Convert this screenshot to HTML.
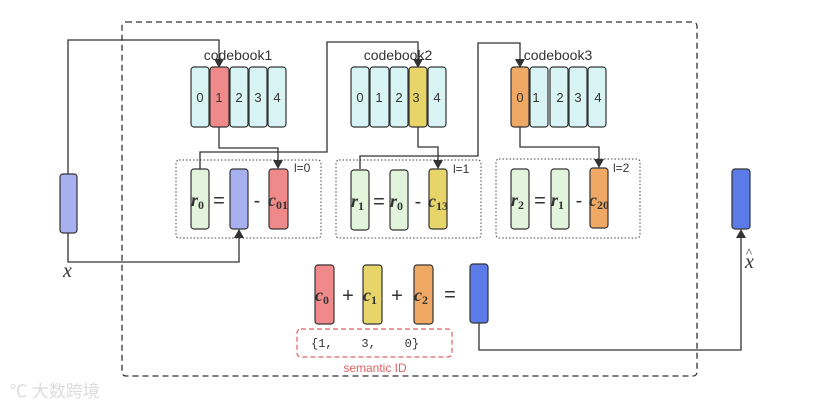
<!DOCTYPE html>
<html><head><meta charset="utf-8"><style>
html,body{margin:0;padding:0;background:#fff;width:820px;height:408px;overflow:hidden}
svg{display:block}
.cb{font-family:"Liberation Sans",sans-serif;fill:#333}
.m{font-family:"Liberation Serif",serif;font-style:italic;font-weight:bold;fill:#333}
</style></head><body>
<svg width="820" height="408" viewBox="0 0 820 408" xmlns="http://www.w3.org/2000/svg">
<rect x="122" y="22" width="575" height="354" rx="4" fill="none" stroke="#333" stroke-width="1.3" stroke-dasharray="6,4"/>
<g fill="none" stroke="#444" stroke-width="1" stroke-dasharray="1.5,2">
<rect x="176" y="160" width="145" height="78" rx="3"/>
<rect x="336" y="160" width="145" height="78" rx="3"/>
<rect x="496" y="159" width="144" height="79" rx="3"/>
</g>
<g class="cb" style="font-size:12px"><text x="294" y="172">l=0</text><text x="453" y="173">l=1</text><text x="613" y="172">l=2</text></g>

<g fill="none" stroke="#333" stroke-width="1.3">
<path d="M68,174 V40 H219 V60"/>
<path d="M219,127 V148 H278 V162"/>
<path d="M200,169 V152 H327 V42 H418 V60"/>
<path d="M418,127 V147 H438 V162"/>
<path d="M360,169 V156 H478 V43 H520 V60"/>
<path d="M520,127 V147 H599 V161"/>
<path d="M68,233 V262 H239 V236"/>
<path d="M479,323 V350 H741 V236"/>
</g>
<g fill="#333">
<path d="M214,59 L224,59 L219,68 z"/>
<path d="M273,160 L283,160 L278,169 z"/>
<path d="M413,59 L423,59 L418,68 z"/>
<path d="M433,160 L443,160 L438,169 z"/>
<path d="M515,59 L525,59 L520,68 z"/>
<path d="M594,159 L604,159 L599,168 z"/>
<path d="M234,238 L244,238 L239,229 z"/>
<path d="M736,238 L746,238 L741,229 z"/>
</g>

<g stroke="#333" stroke-width="1.2">
<rect x="191" y="67" width="18" height="60" rx="3" fill="#d8f4f4"/>
<rect x="210" y="67" width="19" height="60" rx="3" fill="#f08a8a"/>
<rect x="230" y="67" width="18" height="60" rx="3" fill="#d8f4f4"/>
<rect x="249" y="67" width="18" height="60" rx="3" fill="#d8f4f4"/>
<rect x="268" y="67" width="18" height="60" rx="3" fill="#d8f4f4"/>
<rect x="351" y="67" width="18" height="60" rx="3" fill="#d8f4f4"/>
<rect x="370" y="67" width="19" height="60" rx="3" fill="#d8f4f4"/>
<rect x="390" y="67" width="18" height="60" rx="3" fill="#d8f4f4"/>
<rect x="409" y="67" width="18" height="60" rx="3" fill="#e8d56a"/>
<rect x="428" y="67" width="18" height="60" rx="3" fill="#d8f4f4"/>
<rect x="511" y="67" width="18" height="60" rx="3" fill="#f0a865"/>
<rect x="530" y="67" width="18" height="60" rx="3" fill="#d8f4f4"/>
<rect x="550" y="67" width="18" height="60" rx="3" fill="#d8f4f4"/>
<rect x="569" y="67" width="18" height="60" rx="3" fill="#d8f4f4"/>
<rect x="588" y="67" width="18" height="60" rx="3" fill="#d8f4f4"/>
</g>
<g class="cb" text-anchor="middle" style="font-size:14px">
<text x="238" y="60">codebook1</text>
<text x="398" y="60">codebook2</text>
<text x="558" y="60">codebook3</text>
</g>
<g class="cb" text-anchor="middle" style="font-size:13px">
<text x="200" y="102">0</text><text x="219" y="102">1</text><text x="239" y="102">2</text><text x="258" y="102">3</text><text x="277" y="102">4</text>
<text x="360" y="102">0</text><text x="379" y="102">1</text><text x="399" y="102">2</text><text x="416" y="102">3</text><text x="437" y="102">4</text>
<text x="520" y="102">0</text><text x="536" y="102">1</text><text x="560" y="102">2</text><text x="578" y="102">3</text><text x="598" y="102">4</text>
</g>

<g stroke="#333" stroke-width="1.2">
<rect x="60" y="174" width="17" height="59" rx="3" fill="#a8b1f0"/>
<rect x="191" y="169" width="18" height="60" rx="3" fill="#e2f4dc"/>
<rect x="230" y="169" width="18" height="60" rx="3" fill="#a8b1f0"/>
<rect x="269" y="169" width="19" height="60" rx="3" fill="#f08a8a"/>
<rect x="351" y="170" width="18" height="60" rx="3" fill="#e2f4dc"/>
<rect x="390" y="170" width="18" height="60" rx="3" fill="#e2f4dc"/>
<rect x="429" y="169" width="18" height="60" rx="3" fill="#e8d56a"/>
<rect x="511" y="169" width="18" height="60" rx="3" fill="#e2f4dc"/>
<rect x="551" y="169" width="18" height="60" rx="3" fill="#e2f4dc"/>
<rect x="590" y="168" width="18" height="60" rx="3" fill="#f0a865"/>
<rect x="732" y="169" width="18" height="60" rx="3" fill="#5b7be8"/>
<rect x="315" y="265" width="19" height="59" rx="3" fill="#f08a8a"/>
<rect x="363" y="265" width="19" height="59" rx="3" fill="#e8d56a"/>
<rect x="414" y="265" width="19" height="59" rx="3" fill="#f0a865"/>
<rect x="470" y="264" width="18" height="59" rx="3" fill="#5b7be8"/>
</g>
<g class="m" style="font-size:18px">
<text x="191" y="206">r<tspan style="font-size:12px;font-style:normal" dy="3">0</tspan></text>
<text x="268" y="206">c<tspan style="font-size:12px;font-style:normal" dy="3">01</tspan></text>
<text x="351" y="207">r<tspan style="font-size:12px;font-style:normal" dy="3">1</tspan></text>
<text x="390" y="207">r<tspan style="font-size:12px;font-style:normal" dy="3">0</tspan></text>
<text x="428" y="207">c<tspan style="font-size:12px;font-style:normal" dy="3">13</tspan></text>
<text x="511" y="206">r<tspan style="font-size:12px;font-style:normal" dy="3">2</tspan></text>
<text x="551" y="206">r<tspan style="font-size:12px;font-style:normal" dy="3">1</tspan></text>
<text x="589" y="206">c<tspan style="font-size:12px;font-style:normal" dy="3">20</tspan></text>
<text x="315" y="301">c<tspan style="font-size:12px;font-style:normal" dy="3">0</tspan></text>
<text x="363" y="301">c<tspan style="font-size:12px;font-style:normal" dy="3">1</tspan></text>
<text x="414" y="301">c<tspan style="font-size:12px;font-style:normal" dy="3">2</tspan></text>
</g>
<g style="font-family:'Liberation Serif',serif;font-style:italic;font-size:20px" fill="#333">
<text x="63" y="277">x</text>
<text x="745" y="268">x</text>
</g>
<text x="746" y="257" style="font-family:'Liberation Serif',serif;font-size:13px" fill="#333">^</text>
<g class="cb" text-anchor="middle" style="font-size:20px">
<text x="219" y="207">=</text><text x="257" y="207">-</text>
<text x="379" y="208">=</text><text x="418" y="208">-</text>
<text x="540" y="207">=</text><text x="579" y="207">-</text>
<text x="348" y="302">+</text><text x="397" y="302">+</text><text x="450" y="301">=</text>
</g>

<rect x="297" y="329" width="155" height="28" rx="4" fill="none" stroke="#e06060" stroke-width="1.2" stroke-dasharray="5,3"/>
<text x="311" y="347" style="font-family:'Liberation Mono',monospace;font-size:12px" fill="#333" xml:space="preserve">{1,    3,    0}</text>
<text x="375" y="372" text-anchor="middle" style="font-family:'Liberation Sans',sans-serif;font-size:12px" fill="#e06060">semantic ID</text>

<text x="10" y="397" style="font-family:'Liberation Sans','Noto Sans CJK SC',sans-serif;font-size:17px" fill="#dcdcdc">℃ 大数跨境</text>
</svg>
</body></html>
